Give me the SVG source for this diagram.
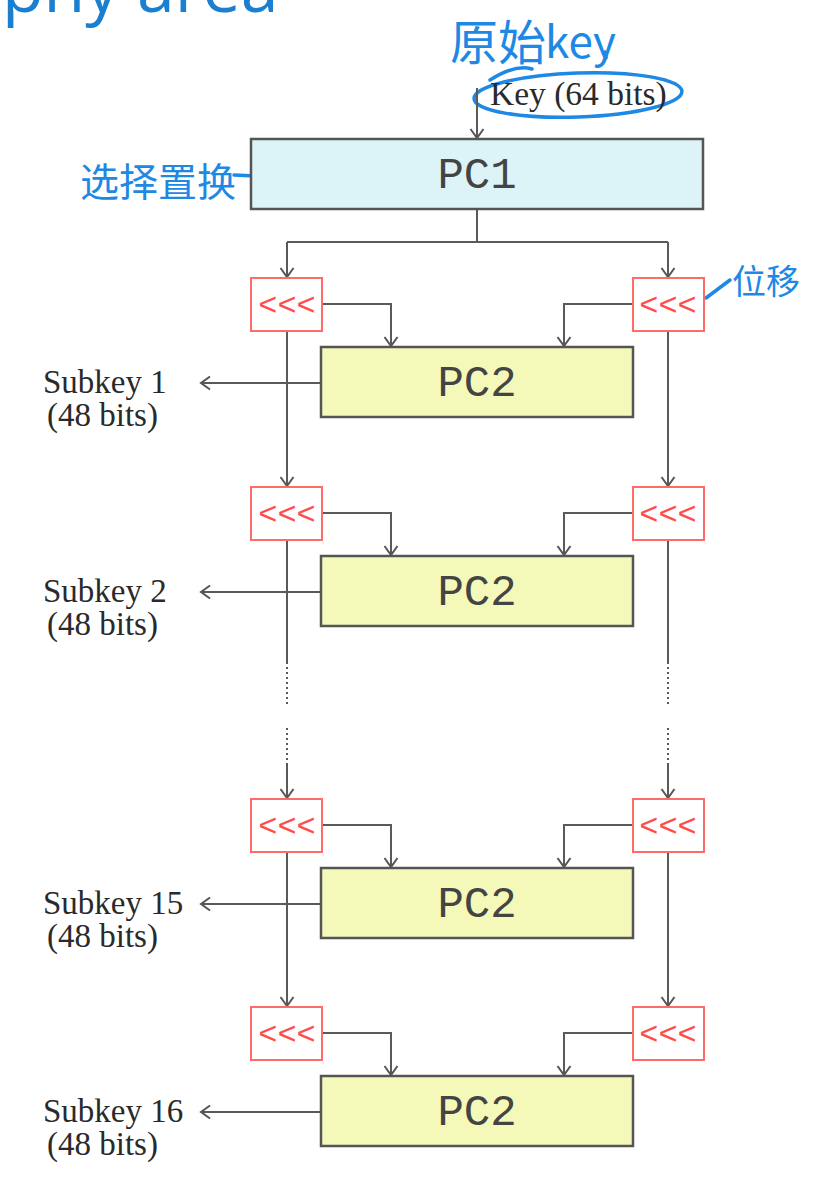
<svg xmlns="http://www.w3.org/2000/svg" width="840" height="1184" viewBox="0 0 840 1184">
<defs>
<marker id="ah" markerUnits="userSpaceOnUse" markerWidth="20" markerHeight="20" refX="10" refY="10" orient="auto" viewBox="0 0 20 20">
<path d="M1,3.5 L10,10 L1,16.5" fill="none" stroke="#555" stroke-width="2"/>
</marker>
</defs>
<style>
.ln{fill:none;stroke:#5a5a5a;stroke-width:2}
.dot{fill:none;stroke:#5a5a5a;stroke-width:2;stroke-dasharray:2 3}
.pc1{fill:#dcf4f8;stroke:#555;stroke-width:2.5}
.pc2{fill:#f4f8b8;stroke:#555;stroke-width:2.5}
.rot{fill:#fff;stroke:#ff6b6b;stroke-width:2}
.rt{font-family:"Courier New","Liberation Mono",monospace;font-size:32px;fill:#ff4d4d;text-anchor:middle}
.pt{font-family:"Courier New","Liberation Mono",monospace;font-size:44px;fill:#444;text-anchor:middle}
.st{font-family:"Liberation Serif",serif;font-size:33px;fill:#2a2a2a}
.hw{font-family:"Noto Sans CJK SC",sans-serif;fill:#1e88e5}
.hl{fill:none;stroke:#1e88e5;stroke-width:3.5;stroke-linecap:round}
</style>
<text x="2" y="12" font-family="Open Sans,sans-serif" font-size="68" fill="#1a7fd0">phy area</text>
<g id="annotations">
<text class="hw" x="450" y="60" font-size="48">原始</text>
<text class="hw" x="545" y="58" font-size="44">key</text>
<path class="hl" d="M605,52 L606,58"/>
<path class="hl" d="M532,69 Q515,64 490,80"/>
<ellipse class="hl" cx="578" cy="95" rx="104" ry="22" transform="rotate(-2 578 95)"/>
<text class="hw" x="80" y="196" font-size="39">选择置换</text>
<path class="hl" d="M234,175 L258,176"/>
<text class="hw" x="732" y="294" font-size="34">位移</text>
<path class="hl" d="M706,298 L730,280"/>
</g>
<g id="connectors">
<path class="ln" d="M477,88 V138" marker-end="url(#ah)"/>
<path class="ln" d="M477,209 V242"/>
<path class="ln" d="M287,242 H668"/>
<path class="ln" d="M287,242 V277" marker-end="url(#ah)"/>
<path class="ln" d="M668,242 V277" marker-end="url(#ah)"/>
<path class="ln" d="M322,304 H391 V346" marker-end="url(#ah)"/>
<path class="ln" d="M633,304 H564 V346" marker-end="url(#ah)"/>
<path class="ln" d="M321,383 H201" marker-end="url(#ah)"/>
<path class="ln" d="M287,331 V486" marker-end="url(#ah)"/>
<path class="ln" d="M668,331 V486" marker-end="url(#ah)"/>
<path class="ln" d="M322,513 H391 V555" marker-end="url(#ah)"/>
<path class="ln" d="M633,513 H564 V555" marker-end="url(#ah)"/>
<path class="ln" d="M321,592 H201" marker-end="url(#ah)"/>
<path class="ln" d="M287,540 V662"/>
<path class="ln" d="M668,540 V662"/>
<path class="dot" d="M287,662 V705 M287,728 V765"/>
<path class="dot" d="M668,662 V705 M668,728 V765"/>
<path class="ln" d="M287,765 V798" marker-end="url(#ah)"/>
<path class="ln" d="M668,765 V798" marker-end="url(#ah)"/>
<path class="ln" d="M322,825 H391 V867" marker-end="url(#ah)"/>
<path class="ln" d="M633,825 H564 V867" marker-end="url(#ah)"/>
<path class="ln" d="M321,904 H201" marker-end="url(#ah)"/>
<path class="ln" d="M287,852 V1006" marker-end="url(#ah)"/>
<path class="ln" d="M668,852 V1006" marker-end="url(#ah)"/>
<path class="ln" d="M322,1033 H391 V1075" marker-end="url(#ah)"/>
<path class="ln" d="M633,1033 H564 V1075" marker-end="url(#ah)"/>
<path class="ln" d="M321,1112 H201" marker-end="url(#ah)"/>
</g>
<g id="key"><text x="490" y="105" font-family="Liberation Serif,serif" font-size="33.5" fill="#2a2a2a">Key (64 bits)</text></g>
<g id="pc1"><rect class="pc1" x="251" y="139" width="452" height="70"/><text class="pt" x="477" y="188">PC1</text></g>
<g id="rotL1"><rect class="rot" x="251" y="278" width="71" height="53"/><text class="rt" x="287" y="315">&lt;&lt;&lt;</text></g>
<g id="rotR1"><rect class="rot" x="633" y="278" width="71" height="53"/><text class="rt" x="668" y="315">&lt;&lt;&lt;</text></g>
<g id="pc2_1"><rect class="pc2" x="321" y="347" width="312" height="70"/><text class="pt" x="477" y="396">PC2</text></g>
<g id="sk1"><text class="st" x="43" y="393">Subkey 1</text><text class="st" x="47" y="426">(48 bits)</text></g>
<g id="rotL2"><rect class="rot" x="251" y="487" width="71" height="53"/><text class="rt" x="287" y="524">&lt;&lt;&lt;</text></g>
<g id="rotR2"><rect class="rot" x="633" y="487" width="71" height="53"/><text class="rt" x="668" y="524">&lt;&lt;&lt;</text></g>
<g id="pc2_2"><rect class="pc2" x="321" y="556" width="312" height="70"/><text class="pt" x="477" y="605">PC2</text></g>
<g id="sk2"><text class="st" x="43" y="602">Subkey 2</text><text class="st" x="47" y="635">(48 bits)</text></g>
<g id="rotL15"><rect class="rot" x="251" y="799" width="71" height="53"/><text class="rt" x="287" y="836">&lt;&lt;&lt;</text></g>
<g id="rotR15"><rect class="rot" x="633" y="799" width="71" height="53"/><text class="rt" x="668" y="836">&lt;&lt;&lt;</text></g>
<g id="pc2_15"><rect class="pc2" x="321" y="868" width="312" height="70"/><text class="pt" x="477" y="917">PC2</text></g>
<g id="sk15"><text class="st" x="43" y="914">Subkey 15</text><text class="st" x="47" y="947">(48 bits)</text></g>
<g id="rotL16"><rect class="rot" x="251" y="1007" width="71" height="53"/><text class="rt" x="287" y="1044">&lt;&lt;&lt;</text></g>
<g id="rotR16"><rect class="rot" x="633" y="1007" width="71" height="53"/><text class="rt" x="668" y="1044">&lt;&lt;&lt;</text></g>
<g id="pc2_16"><rect class="pc2" x="321" y="1076" width="312" height="70"/><text class="pt" x="477" y="1125">PC2</text></g>
<g id="sk16"><text class="st" x="43" y="1122">Subkey 16</text><text class="st" x="47" y="1155">(48 bits)</text></g>
</svg>
